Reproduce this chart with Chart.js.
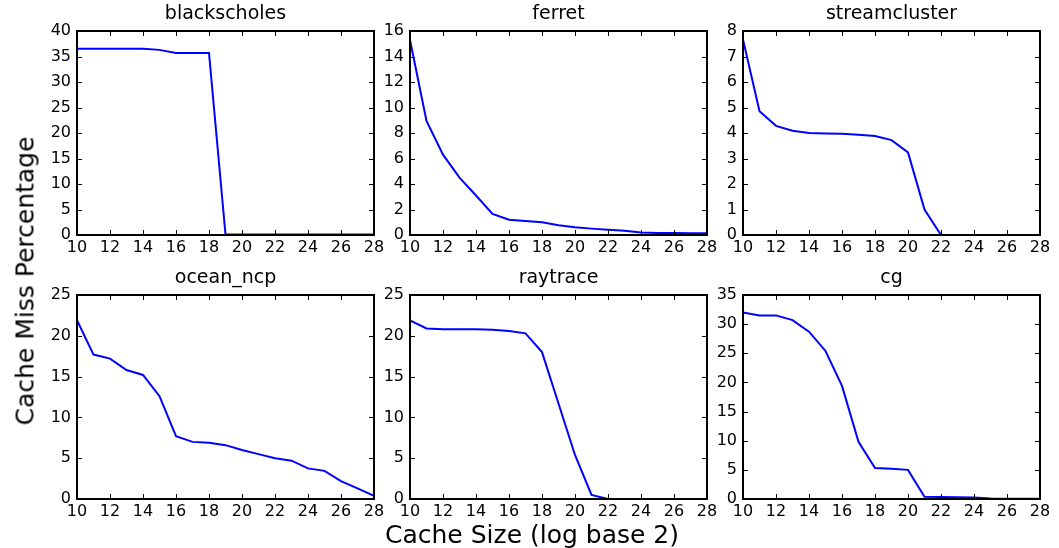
<!DOCTYPE html>
<html>
<head>
<meta charset="utf-8">
<title>Cache Miss Percentage</title>
<script src="https://cdn.jsdelivr.net/npm/chart.js@4/dist/chart.umd.min.js"></script>
<style>
  html, body { margin: 0; padding: 0; background: #fff; }
  #wrap { position: relative; width: 1059px; height: 548px; overflow: hidden; font-family: "DejaVu Sans", sans-serif; }
  canvas { position: absolute; }
  .lbl { position: absolute; font-size: 25px; color: #000; white-space: nowrap; z-index: 2; }
  #ylab { left: 25px; top: 281px; transform: translate(-50%, -50%) rotate(-90deg); }
  #xlab { left: 532px; top: 534px; transform: translate(-50%, -50%); }
</style>
</head>
<body>
<div id="wrap">
  <div class="lbl" id="ylab">Cache Miss Percentage</div>
  <div class="lbl" id="xlab">Cache Size (log base 2)</div>
</div>
<script>
// cache size, log base 2
const cacheSizes = [10, 11, 12, 13, 14, 15, 16, 17, 18, 19, 20, 21, 22, 23, 24, 25, 26, 27, 28];

const benchmarks = ['blackscholes', 'ferret', 'streamcluster', 'ocean_ncp', 'raytrace', 'cg'];

// miss percentage per benchmark
const blackscholes = [36.5, 36.5, 36.5, 36.5, 36.5, 36.3, 35.7, 35.7, 35.7, 0.1, 0.1, 0.1, 0.1, 0.1, 0.1, 0.1, 0.1, 0.1, 0.1];
const ferret = [15.3, 8.95, 6.3, 4.5, 3.1, 1.65, 1.2, 1.1, 1.0, 0.76, 0.6, 0.5, 0.42, 0.34, 0.2, 0.15, 0.15, 0.14, 0.14];
const streamcluster = [7.67, 4.85, 4.28, 4.09, 4.0, 3.98, 3.97, 3.93, 3.88, 3.72, 3.24, 1.0, 0, 0, 0, 0, 0, 0, 0];
const ocean_ncp = [21.9, 17.7, 17.2, 15.8, 15.2, 12.6, 7.7, 7.0, 6.9, 6.6, 6.0, 5.5, 5.0, 4.7, 3.75, 3.45, 2.2, 1.3, 0.4];
const raytrace = [21.9, 20.9, 20.8, 20.8, 20.8, 20.75, 20.6, 20.3, 18.0, 11.7, 5.4, 0.5, 0, 0, 0, 0, 0, 0, 0];
const cg = [32.0, 31.5, 31.5, 30.7, 28.7, 25.4, 19.4, 9.8, 5.3, 5.2, 5.0, 0.4, 0.35, 0.3, 0.25, 0.1, 0.05, 0.05, 0.05];

const seriesValues = [blackscholes, ferret, streamcluster, ocean_ncp, raytrace, cg];

// y axis ticks for each panel
const yMax = [40, 16, 8, 25, 25, 35];
const yStep = [5, 2, 1, 5, 5, 5];

// x axis ticks
const xMin = 10, xMax = 28, xStep = 2;

// plot area of each panel on the page
const panelLeft = [77, 410, 743];
const panelTop = [31, 295];
const plotW = 297, plotH = 204;
const yAxisW = 50, titleH = 31, xAxisH = 28, padRight = 14;

// inward ticks on all four sides plus black frame, like the original
const framePlugin = {
    id: 'frame',
    afterDatasetsDraw(chart) {
        const ctx = chart.ctx;
        const a = chart.chartArea;
        const x = chart.scales.x, y = chart.scales.y;
        ctx.save();
        ctx.strokeStyle = '#000';
        ctx.lineWidth = 1;
        ctx.beginPath();
        x.ticks.forEach(t => {
            const px = Math.round(x.getPixelForValue(t.value)) + 0.5;
            ctx.moveTo(px, a.bottom); ctx.lineTo(px, a.bottom - 5);
            ctx.moveTo(px, a.top); ctx.lineTo(px, a.top + 5);
        });
        y.ticks.forEach(t => {
            const py = Math.round(y.getPixelForValue(t.value)) + 0.5;
            ctx.moveTo(a.left, py); ctx.lineTo(a.left + 5, py);
            ctx.moveTo(a.right, py); ctx.lineTo(a.right - 5, py);
        });
        ctx.stroke();
        ctx.lineWidth = 2;
        ctx.strokeRect(a.left, a.top, a.right - a.left, a.bottom - a.top);
        ctx.restore();
    }
};

function makePanel(i) {
    const wrap = document.getElementById('wrap');
    const canvas = document.createElement('canvas');
    const left = panelLeft[i % 3] - yAxisW;
    const top = panelTop[Math.floor(i / 3)] - titleH;
    const w = yAxisW + plotW + padRight;
    const h = titleH + plotH + xAxisH;
    canvas.width = w;
    canvas.height = h;
    canvas.style.left = left + 'px';
    canvas.style.top = top + 'px';
    canvas.style.width = w + 'px';
    canvas.style.height = h + 'px';
    wrap.appendChild(canvas);

    const tickFont = { family: 'DejaVu Sans', size: 16 };

    new Chart(canvas.getContext('2d'), {
        type: 'line',
        data: {
            datasets: [{
                label: benchmarks[i],
                data: cacheSizes.map((c, k) => ({ x: c, y: seriesValues[i][k] })),
                borderColor: '#0000ff',
                borderWidth: 2,
                pointRadius: 0,
                tension: 0,
                fill: false,
            }],
        },
        options: {
            responsive: false,
            animation: false,
            events: [],
            layout: { padding: { left: 0, top: 0, right: padRight, bottom: 0 } },
            plugins: {
                legend: { display: false },
                tooltip: { enabled: false },
                title: {
                    display: true,
                    text: benchmarks[i],
                    fullSize: false,
                    color: '#000',
                    font: { family: 'DejaVu Sans', size: 19, weight: 'normal', lineHeight: 1 },
                    padding: { top: 5, bottom: 7 },
                },
            },
            scales: {
                x: {
                    type: 'linear',
                    min: xMin,
                    max: xMax,
                    grid: { display: false, drawTicks: false },
                    border: { display: false },
                    ticks: { stepSize: xStep, color: '#000', font: tickFont, padding: 3, maxRotation: 0 },
                    afterFit(scale) { scale.height = xAxisH; },
                },
                y: {
                    min: 0,
                    max: yMax[i],
                    grid: { display: false, drawTicks: false },
                    border: { display: false },
                    ticks: { stepSize: yStep[i], color: '#000', font: tickFont, padding: 6 },
                    afterFit(scale) { scale.width = yAxisW; },
                },
            },
        },
        plugins: [framePlugin],
    });
}

for (let i = 0; i < benchmarks.length; i++) {
    makePanel(i);
}
</script>
</body>
</html>
